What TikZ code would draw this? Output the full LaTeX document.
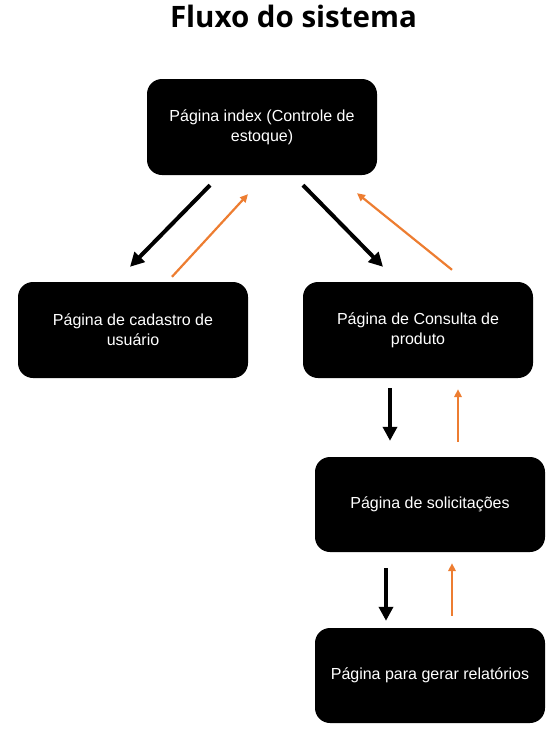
\documentclass[tikz,border=0pt]{standalone}
\usepackage{fontspec}
\setmainfont{Liberation Sans}
\newfontfamily\titlefont{Open Sans}
\usepackage{xcolor}
\usepackage{tikz}
\usetikzlibrary{arrows.meta}

\definecolor{laranja}{RGB}{237,125,49}

\begin{document}
\begin{tikzpicture}[x=1pt,y=-1pt,
    pagina/.style={rectangle, rounded corners=15pt, fill=black, text=white,
        minimum width=230pt, minimum height=96pt, align=center,
        font=\fontsize{16}{20}\selectfont},
    ida/.style={-{Triangle[length=14pt,width=14pt]}, line width=4pt},
    volta/.style={-{Triangle[length=8pt,width=7.5pt]}, line width=2.2pt, laranja}]
        \useasboundingbox (0,0) rectangle (551,736);

        \node[font=\titlefont\bfseries\fontsize{29.5}{34}\selectfont] (titulo) at (293.5,16.5) {Fluxo do sistema};

        \node[pagina] (index) at (262,127) {Página index (Controle de\\estoque)};
        \node[pagina] (cadastro) at (133,330) {Página de cadastro de\\usuário};
        \node[pagina] (consulta) at (418,330) {Página de Consulta de\\produto};
        \node[pagina, minimum height=95pt] (solic) at (430,504.5) {Página de solicitações};
        \node[pagina, minimum height=95pt] (relat) at (430,675.5) {Página para gerar relatórios};

        % ida
        \draw[ida] ([xshift=-52pt,yshift=-10pt]index.south) -- ([xshift=-3pt,yshift=15pt]cadastro.north);
        \draw[ida] ([xshift=41pt,yshift=-10pt]index.south) -- ([xshift=-35pt,yshift=15pt]consulta.north);
        \draw[ida] ([xshift=-28pt,yshift=-10pt]consulta.south) -- ([xshift=-40pt,yshift=16pt]solic.north);
        \draw[ida] ([xshift=-44pt,yshift=-16pt]solic.south) -- ([xshift=-44pt,yshift=7pt]relat.north);

        % volta
        \draw[volta] ([xshift=39pt,yshift=5pt]cadastro.north) -- ([xshift=-14pt,yshift=-19pt]index.south);
        \draw[volta] ([xshift=34pt,yshift=12pt]consulta.north) -- ([xshift=95pt,yshift=-18pt]index.south);
        \draw[volta] ([xshift=28pt,yshift=15pt]solic.north) -- ([xshift=40pt,yshift=-11pt]consulta.south);
        \draw[volta] ([xshift=22pt,yshift=12pt]relat.north) -- ([xshift=22pt,yshift=-11pt]solic.south);
\end{tikzpicture}
\end{document}
